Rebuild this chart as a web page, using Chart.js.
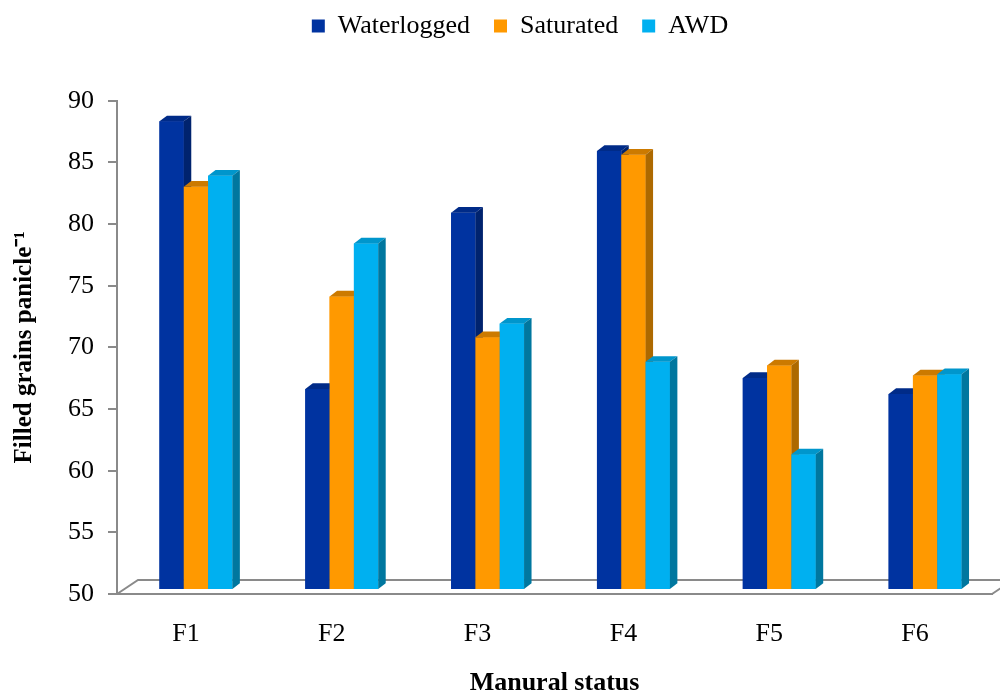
<!DOCTYPE html>
<html>
<head>
<meta charset="utf-8">
<script src="https://cdn.jsdelivr.net/npm/chart.js@4.4.1/dist/chart.umd.min.js"></script>
<style>
  html, body { margin: 0; padding: 0; background: #ffffff; }
  canvas { display: block; }
</style>
</head>
<body>
<canvas id="chart" width="1000" height="694"></canvas>
<script>
// Filled grains per panicle by manural status and water regime
const categories = ['F1', 'F2', 'F3', 'F4', 'F5', 'F6'];
const waterlogged = [88.0, 66.3, 80.6, 85.6, 67.2, 65.9];
const saturated   = [82.7, 73.8, 70.5, 85.3, 68.2, 67.4];
const awd         = [83.6, 78.1, 71.6, 68.5, 61.0, 67.5];
const seriesNames = ['Waterlogged', 'Saturated', 'AWD'];
const yMin = 50, yMax = 90, yStep = 5;

// Face colours for the extruded columns: front, right side, top
const frontColors = ['#0033A0', '#FF9900', '#00B0F0'];
const sideColors  = ['#00236E', '#AD6900', '#00779F'];
const topColors   = ['#002B88', '#CC7A00', '#0096CC'];
const axisGrey = '#8A8A8A';

const barShift = { x: 6, y: -4 };          // columns stand a little behind the front axis
const barDepth = { dx: 7.5, dy: -5.7 };     // extrusion of each column
const floorDepth = { dx: 21, dy: -14 };     // depth of the floor plate
const legendShift = { x: 24, y: -51.7 };

Chart.defaults.font.family = "'Liberation Serif', 'Times New Roman', serif";
Chart.defaults.color = '#000000';

const columns3d = {
  id: 'columns3d',
  afterLayout(chart) {
    const lg = chart.legend;
    if (!lg) return;
    lg.left += legendShift.x; lg.right += legendShift.x;
    lg.top += legendShift.y; lg.bottom += legendShift.y;
  },
  beforeDatasetsDraw(chart) {
    const { ctx, chartArea: a } = chart;
    // floor plate behind the columns
    ctx.save();
    ctx.strokeStyle = axisGrey;
    ctx.lineWidth = 2;
    ctx.beginPath();
    ctx.moveTo(a.left, a.bottom);
    ctx.lineTo(a.left + floorDepth.dx, a.bottom + floorDepth.dy);
    ctx.lineTo(a.right + floorDepth.dx, a.bottom + floorDepth.dy);
    ctx.moveTo(a.right, a.bottom);
    ctx.lineTo(a.right + floorDepth.dx, a.bottom + floorDepth.dy);
    ctx.stroke();
    ctx.restore();
    ctx.save();
    ctx.translate(barShift.x, barShift.y);
  },
  afterDatasetsDraw(chart) {
    const ctx = chart.ctx;
    const { dx, dy } = barDepth;
    // redraw column by column so each front face hides its left neighbour's side
    chart.data.datasets.forEach((ds, i) => {
      const meta = chart.getDatasetMeta(i);
      if (meta.hidden) return;
      meta.data.forEach(bar => {
        bar.draw(ctx);
        const { x, y, base, width } = bar.getProps(['x', 'y', 'base', 'width'], true);
        const l = x - width / 2, r = x + width / 2;
        // top face
        ctx.fillStyle = topColors[i];
        ctx.beginPath();
        ctx.moveTo(l, y);
        ctx.lineTo(l + dx, y + dy);
        ctx.lineTo(r + dx, y + dy);
        ctx.lineTo(r, y);
        ctx.closePath();
        ctx.fill();
        // right side face
        ctx.fillStyle = sideColors[i];
        ctx.beginPath();
        ctx.moveTo(r, y);
        ctx.lineTo(r + dx, y + dy);
        ctx.lineTo(r + dx, base + dy);
        ctx.lineTo(r, base);
        ctx.closePath();
        ctx.fill();
      });
    });
    ctx.restore();
  }
};

const seriesValues = [waterlogged, saturated, awd];

new Chart(document.getElementById('chart'), {
  type: 'bar',
  data: {
    labels: categories,
    datasets: seriesNames.map((name, i) => ({
      label: name,
      data: seriesValues[i],
      base: yMin,
      backgroundColor: frontColors[i],
      borderWidth: 0,
      categoryPercentage: 0.5,
      barPercentage: 1.0
    }))
  },
  options: {
    responsive: false,
    animation: false,
    devicePixelRatio: 1,
    layout: { padding: { top: 40.7, right: 8, bottom: 0, left: 0 } },
    plugins: {
      tooltip: { enabled: false },
      legend: {
        position: 'top',
        labels: {
          boxWidth: 13,
          boxHeight: 13,
          padding: 24,
          font: { size: 26 },
          color: '#000000'
        }
      }
    },
    scales: {
      x: {
        grid: { display: false, drawTicks: false },
        border: { display: true, color: axisGrey, width: 2 },
        ticks: { font: { size: 26 }, padding: 24.4, labelOffset: -4, color: '#000000' },
        title: {
          display: true,
          text: 'Manural status',
          font: { size: 26, weight: 'bold', lineHeight: 0.8 },
          padding: { top: 0, bottom: 0 },
          color: '#000000'
        },
        afterFit(scale) { scale.height = 100; }
      },
      y: {
        min: yMin,
        max: yMax,
        ticks: { stepSize: yStep, font: { size: 26 }, padding: 14, color: '#000000' },
        grid: { drawOnChartArea: false, drawTicks: true, tickLength: 9, color: axisGrey, lineWidth: 2 },
        border: { display: true, color: axisGrey, width: 2 },
        title: {
          display: true,
          text: 'Filled grains panicle\u207B\u00B9',
          font: { size: 25, weight: 'bold', lineHeight: 1.2 },
          padding: { top: 10, bottom: 0 },
          color: '#000000'
        },
        afterFit(scale) { scale.width = 117; }
      }
    }
  },
  plugins: [columns3d]
});
</script>
</body>
</html>
